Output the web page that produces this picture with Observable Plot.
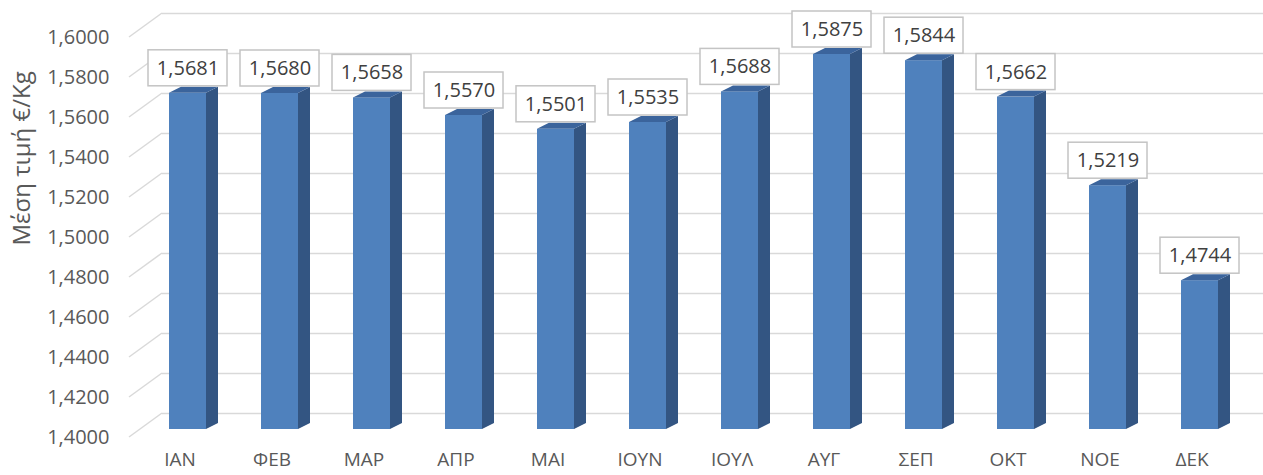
<!DOCTYPE html>
<html>
<head>
<meta charset="utf-8">
<script src="https://cdn.jsdelivr.net/npm/d3@7"></script>
<script src="https://cdn.jsdelivr.net/npm/@observablehq/plot@0.6"></script>
<style>
  html, body { margin: 0; padding: 0; background: #ffffff; }
</style>
</head>
<body>
<div id="chart"></div>
<script>
const months = ["ΙΑΝ","ΦΕΒ","ΜΑΡ","ΑΠΡ","ΜΑΙ","ΙΟΥΝ","ΙΟΥΛ","ΑΥΓ","ΣΕΠ","ΟΚΤ","ΝΟΕ","ΔΕΚ"];
const prices = [1.5681, 1.5680, 1.5658, 1.5570, 1.5501, 1.5535, 1.5688, 1.5875, 1.5844, 1.5662, 1.5219, 1.4744];
const yTicks = [1.40, 1.42, 1.44, 1.46, 1.48, 1.50, 1.52, 1.54, 1.56, 1.58, 1.60];
const yTitle = "Μέση τιμή €/Kg";

const data = months.map((m, i) => ({m, v: prices[i]}));
const fmt = d => d.toFixed(4).replace(".", ",");

const FONT = "'Open Sans', 'Noto Sans', sans-serif";
const FS = 20;
const frontColor = "#4f81bd";
const sideColor = "#335582";
const topColor = "#3b649c";
const gridColor = "#d9d9d9";
const depthX = 12, depthY = -6;

const chart = Plot.plot({
  width: 1263,
  height: 475,
  marginLeft: 129,
  marginRight: 0,
  marginTop: 29,
  marginBottom: 46,
  style: {fontFamily: FONT, fontSize: FS + "px", background: "#ffffff"},
  x: {domain: months, range: [139.3, 1248.2], paddingInner: 0.6, paddingOuter: 0.3, axis: null},
  y: {domain: [1.4, 1.6], range: [429, 29], axis: null},
  marks: [
    Plot.ruleY(yTicks, {y: d => d, dy: -16, insetLeft: 33, stroke: gridColor, strokeWidth: 1.5}),
    Plot.text(yTicks, {y: d => d, text: d => fmt(d), frameAnchor: "left", textAnchor: "end", dx: -20, dy: 8, fill: "#595959", fontSize: FS}),
    Plot.text(months, {x: d => d, text: d => d, frameAnchor: "bottom", dy: 36, dx: -8, fill: "#595959", fontSize: 19}),
    Plot.text([yTitle], {text: d => d, frameAnchor: "left", rotate: -90, dx: -107, dy: 16, fill: "#595959", fontSize: 24}),
    Plot.barY(data, {x: "m", y1: 1.4, y2: "v", fill: frontColor}),
    Plot.text(data, {x: "m", y: "v", text: d => fmt(d.v), dy: -25, fill: "#404040", fontSize: FS})
  ]
});

document.getElementById("chart").appendChild(chart);

const sx = chart.scale("x");
const sy = chart.scale("y");
const bw = sx.bandwidth;
const svg = d3.select(chart);
const lastMark = chart.lastChild;

const deco = svg.insert("g", () => lastMark);

deco.selectAll("line.slant").data(yTicks).join("line")
  .attr("x1", 129).attr("y1", d => sy.apply(d) + 8)
  .attr("x2", 162).attr("y2", d => sy.apply(d) - 16)
  .attr("stroke", gridColor).attr("stroke-width", 1.5);

data.forEach(d => {
  const x0 = sx.apply(d.m), x1 = x0 + bw;
  const yt = sy.apply(d.v), yb = sy.apply(1.4);
  deco.append("polygon")
    .attr("points", [[x1, yt], [x1 + depthX, yt + depthY], [x1 + depthX, yb + depthY], [x1, yb]].map(p => p.join(",")).join(" "))
    .attr("fill", sideColor);
  deco.append("polygon")
    .attr("points", [[x0, yt], [x0 + depthX, yt + depthY], [x1 + depthX, yt + depthY], [x1, yt]].map(p => p.join(",")).join(" "))
    .attr("fill", topColor);
  deco.append("rect")
    .attr("x", x0 + bw / 2 - 39.5).attr("y", yt - 43)
    .attr("width", 79).attr("height", 36)
    .attr("fill", "#ffffff").attr("stroke", "#c4c4c4").attr("stroke-width", 1.5);
});
</script>
</body>
</html>
